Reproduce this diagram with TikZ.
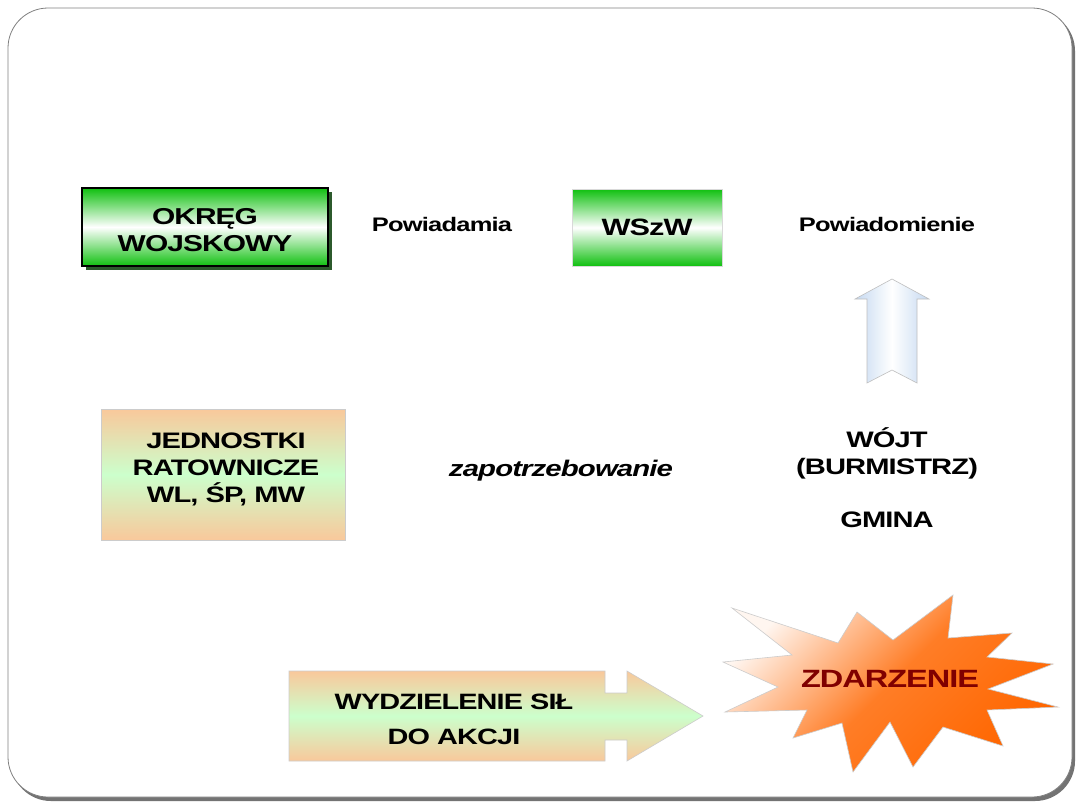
\documentclass[tikz,border=0pt]{standalone}
\usepackage{fontspec}
\newfontfamily\slidefont[FakeStretch=1.3,LetterSpace=-4]{Liberation Sans}
\usepackage{tikz}
\usetikzlibrary{positioning,calc,shadows}
\usepackage{xcolor}
\definecolor{slidegreen}{HTML}{10C010}
\definecolor{shadowgreen}{HTML}{2C5A2C}
\definecolor{peach}{HTML}{F9C89B}
\definecolor{mintgreen}{HTML}{CCFFCC}
\definecolor{paleblue}{HTML}{C5D9F1}
\definecolor{flame}{HTML}{FF6600}
\definecolor{maroon}{HTML}{800000}

\tikzset{
  greenbox/.style={top color=slidegreen,bottom color=slidegreen,middle color=white,inner sep=0pt},
  peachfill/.style={top color=peach,bottom color=peach,middle color=mintgreen},
  slidetext/.style={font=\slidefont\bfseries\fontsize{#1}{13.5}\selectfont,align=center,inner sep=0pt},
  slidetext/.default=9.8
}

\begin{document}
\begin{tikzpicture}[x=0.5pt,y=-0.5pt]
  \useasboundingbox (0,0) rectangle (1080,810);
  % slide frame
  \fill[black!55,rounded corners=20pt] (11,11) rectangle (1075,801);
  \draw[black!50,fill=white,rounded corners=20pt] (8,8) rectangle (1072,797);

  \node[greenbox,draw=black,line width=1.2pt,minimum width=123pt,minimum height=39pt,
        drop shadow={shadow xshift=2pt,shadow yshift=-2pt,fill=shadowgreen,opacity=1}]
        (okreg) at (205,227) {};
  \node[slidetext=11.5] (okregtext) at (205,230) {OKRĘG\\WOJSKOWY};
  \node[greenbox,draw=black!15,line width=0.3pt,minimum width=75pt,minimum height=38.5pt,
        slidetext=11.8] (wszw) at (647,227.5) {WSzW};
  \node[slidetext] (powiadamia) at (442,224) {Powiadamia};
  \node[slidetext] (powiadomienie) at (887,224) {Powiadomienie};

  % arrow up from gmina
  \shade[left color=paleblue,right color=paleblue,middle color=white,draw=black!25,line width=0.3pt]
    (892,279) -- (929,299) -- (917,299) -- (917,383) -- (892,370) -- (867,383)
    -- (867,299) -- (855,299) -- cycle;

  \node[peachfill,draw=black!20,line width=0.3pt,minimum width=122pt,minimum height=65.5pt]
        (jednostki) at (223,474.5) {};
  \node[slidetext=11.2] (jednostkitext) at (226,469) {JEDNOSTKI\\RATOWNICZE\\WL, ŚP, MW};
  \node[font=\slidefont\bfseries\itshape\fontsize{11.3}{13}\selectfont,inner sep=0pt]
        (zapotrz) at (561,471) {zapotrzebowanie};
  \node[slidetext=11.2] (wojt) at (887,477.5) {WÓJT\\(BURMISTRZ)\\[13pt]GMINA};

  % arrow to the incident
  \shade[peachfill,draw=black!20,line width=0.3pt]
    (289,671) -- (605,671) -- (605,693) -- (627,693) -- (627,671) -- (703,716)
    -- (627,761) -- (627,740) -- (605,740) -- (605,761) -- (289,761) -- cycle;
  \node[font=\slidefont\bfseries\fontsize{11.1}{17.5}\selectfont,align=center,inner sep=0pt]
        (wydzielenie) at (454,719.5) {WYDZIELENIE SIŁ\\DO AKCJI};

  % burst
  \shade[top color=flame!6,bottom color=flame,middle color=flame!85,shading angle=45,
         draw=black!20,line width=0.3pt]
    (732,608) -- (838,643) -- (857,612) -- (893,640) -- (953,595) -- (948,638)
    -- (1012,633) -- (987,657) -- (1053,664) -- (988,689) -- (1058,707) -- (987,710)
    -- (1003,746) -- (943,727) -- (913,767) -- (890,722) -- (853,772) -- (842,723)
    -- (793,738) -- (807,710) -- (725,712) -- (778,687) -- (723,662) -- (792,655) -- cycle;
  \node[font=\slidefont\bfseries\fontsize{12.5}{14}\selectfont,text=maroon,inner sep=0pt]
        (zdarzenie) at (890,679) {ZDARZENIE};
\end{tikzpicture}
\end{document}
